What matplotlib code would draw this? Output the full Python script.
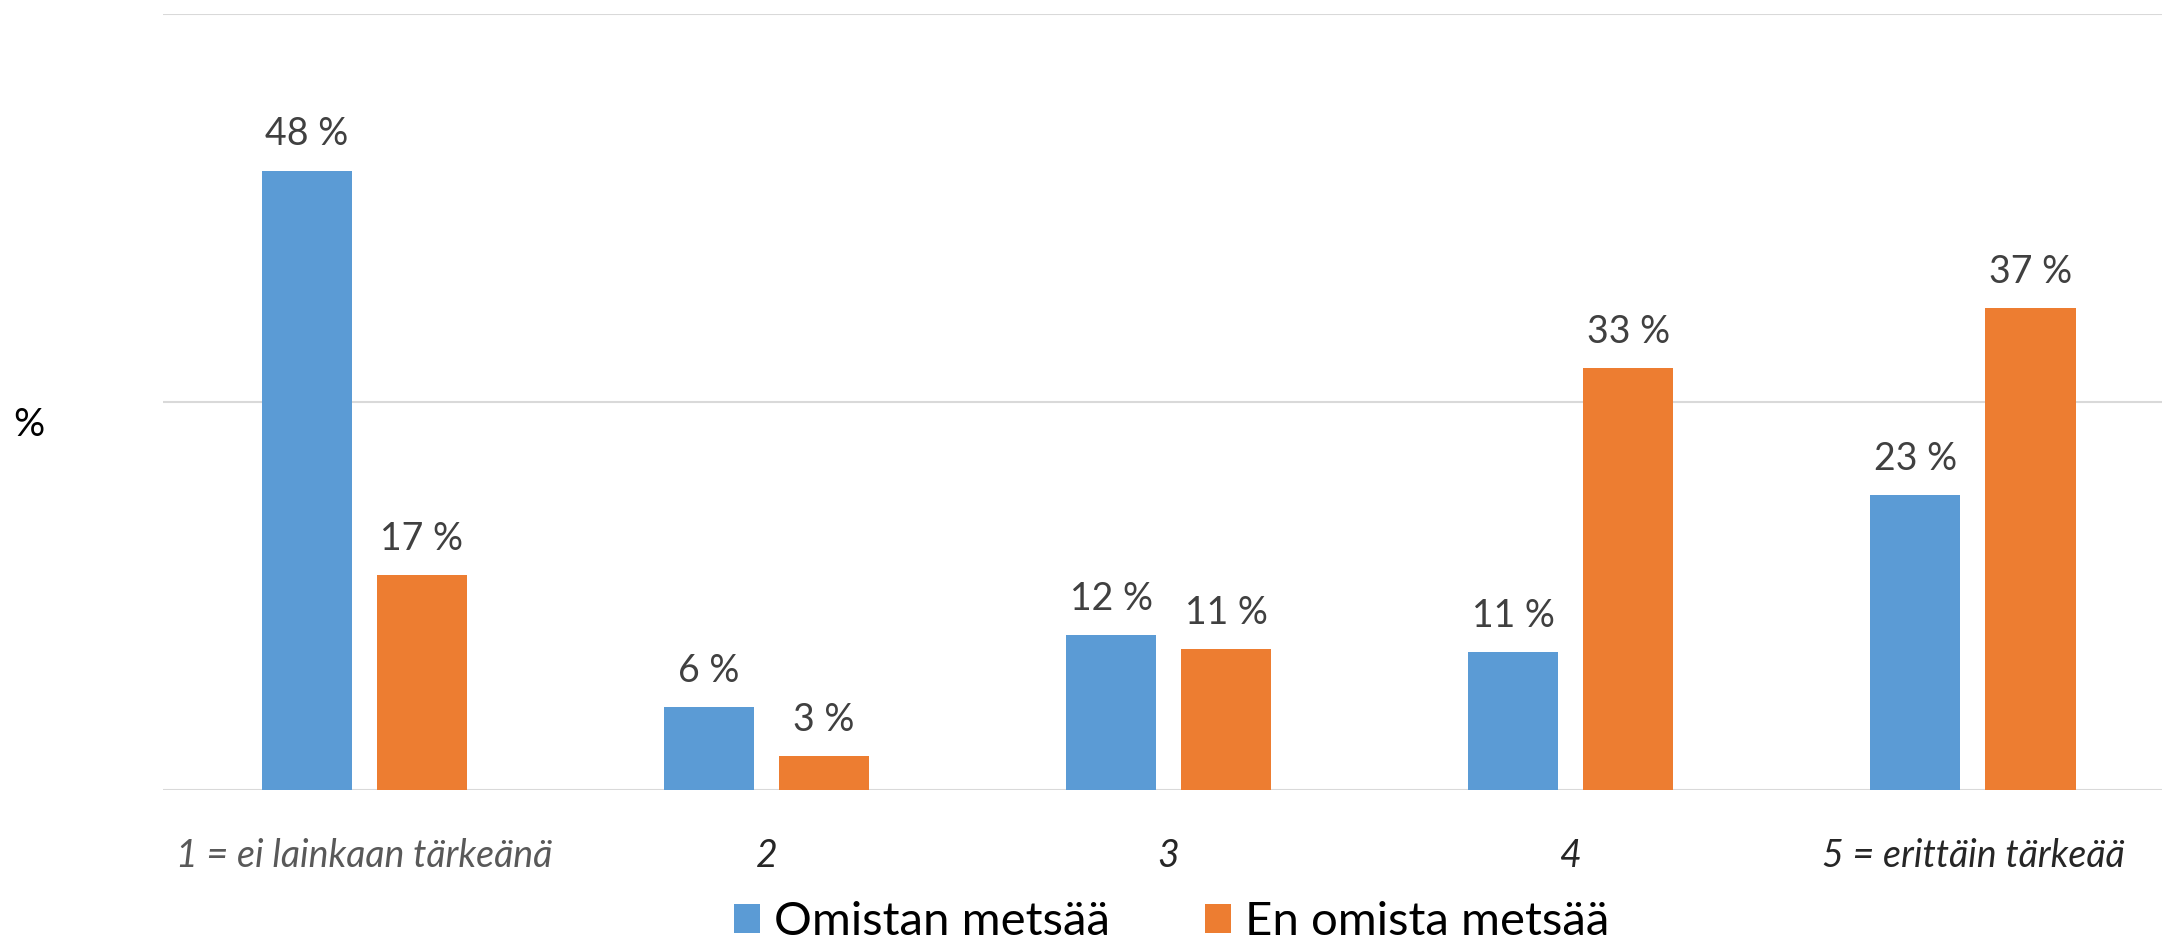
import matplotlib.pyplot as plt
import numpy as np

categories = ["1 = ei lainkaan tärkeänä", "2", "3", "4", "5 = erittäin tärkeää"]
omistan = [47.9, 6.4, 12.0, 10.7, 22.8]
en_omista = [16.6, 2.6, 10.9, 32.6, 37.3]
series_names = ["Omistan metsää", "En omista metsää"]
colors = ["#5B9BD5", "#ED7D31"]

plt.rcParams['font.family'] = ['Lato', 'DejaVu Sans']

fig = plt.figure(figsize=(21.62, 9.49), dpi=100)
ax = fig.add_axes([0.0754, 0.1675, 0.9246, 0.8177])

x = np.arange(len(categories))
w = 0.224
off = 0.143
b1 = ax.bar(x - off, omistan, w, color=colors[0], label=series_names[0], zorder=3)
b2 = ax.bar(x + off, en_omista, w, color=colors[1], label=series_names[1], zorder=3)

for bars, vals in [(b1, omistan), (b2, en_omista)]:
    for rect, v in zip(bars, vals):
        ax.annotate(f"{v:.0f} %", (rect.get_x() + rect.get_width() / 2, v),
                    xytext=(0, 13), textcoords="offset points",
                    ha="center", va="bottom", fontsize=27, color="#404040")

ax.set_ylim(0, 60)
ax.set_yticks([0, 30, 60])
ax.set_xlim(-0.5, 4.47)
ax.yaxis.grid(True, color="#D9D9D9", linewidth=1.5, zorder=0)
ax.tick_params(axis="y", left=False, labelleft=False)
ax.tick_params(axis="x", bottom=False, pad=31)
ax.set_xticks(x)
ax.set_xticklabels(categories, fontsize=27, style="italic", color="#262626")
ax.get_xticklabels()[0].set_color("#595959")
for s in ["top", "right", "left", "bottom"]:
    ax.spines[s].set_visible(False)

fig.text(0.006, 0.552, "%", fontsize=28, color="black", va="center")

fig.legend(loc="center", bbox_to_anchor=(0.542, 0.028), ncol=2, frameon=False,
           fontsize=34, handlelength=0.55, handleheight=0.55, handletextpad=0.3,
           columnspacing=2.0)

fig.savefig("out.png", dpi=100)
